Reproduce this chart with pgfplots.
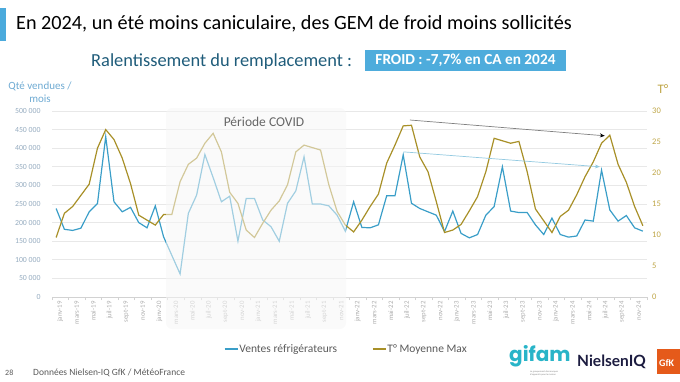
\documentclass[border=0pt]{standalone}
\usepackage{fontspec}
\setmainfont{Carlito}
\newfontfamily\poppins{Poppins}
\newfontfamily\latofont{Lato}
\usepackage{pgfplots}
\pgfplotsset{compat=1.18}
\usetikzlibrary{arrows.meta}
\definecolor{blueline}{RGB}{58,158,200}
\definecolor{goldline}{RGB}{168,144,40}
\definecolor{goldtick}{RGB}{190,165,70}
\definecolor{lefttick}{RGB}{150,172,192}
\definecolor{axtitle}{RGB}{110,170,210}
\definecolor{titlebar}{RGB}{75,170,220}
\definecolor{subtitle}{RGB}{31,92,122}
\definecolor{boxblue}{RGB}{78,172,220}
\definecolor{gifamc}{RGB}{40,180,200}
\definecolor{nielsen}{RGB}{28,28,64}
\definecolor{gfk}{RGB}{229,90,26}
\definecolor{gridc}{RGB}{232,232,232}
\definecolor{legtext}{RGB}{90,90,90}
\begin{document}
\begin{tikzpicture}
\path[use as bounding box] (0pt,0pt) rectangle (680pt,-381pt);
% title
\fill[titlebar] (0pt,-8pt) rectangle (6pt,-41pt);
\node[anchor=base west, inner sep=0pt] at (16pt,-29pt) {\fontsize{20.2}{23}\selectfont En 2024, un été moins caniculaire, des GEM de froid moins sollicités};
\node[anchor=base west, inner sep=0pt, text=subtitle] at (91pt,-66pt) {\fontsize{18.4}{21}\selectfont Ralentissement du remplacement :};
\fill[boxblue] (365pt,-50pt) rectangle (566pt,-71pt);
\node[text=white, inner sep=0pt] at (465.5pt,-60.5pt) {\fontsize{15.3}{17}\selectfont\bfseries FROID : -7,7\% en CA en 2024};
% axis titles
\node[text=axtitle, align=center, inner sep=0pt, font=\fontsize{11}{13}\selectfont] at (40pt,-92pt) {Qté vendues /\\mois};
\node[text=goldtick, inner sep=0pt, font=\fontsize{13}{15}\selectfont] at (663pt,-89pt) {T°};

\begin{axis}[
  at={(52pt,-297pt)}, anchor=south west,
  width=595pt, height=186pt, scale only axis,
  xmin=-0.5, xmax=71.5, ymin=0, ymax=500000,
  axis x line*=bottom, axis y line*=left,
  y axis line style={draw=none},
  x axis line style={draw=gray!35, line width=0.6pt},
  ytick={0,50000,...,500000},
  scaled y ticks=false,
  yticklabel={\pgfmathprintnumber[fixed, precision=0, 1000 sep={\ }, assume math mode=true]{\tick}},
  ymajorgrids, grid style={draw=gridc, line width=0.7pt},
  major y tick style={draw=none},
  yticklabel style={font=\fontsize{7.8}{9}\selectfont, text=lefttick, inner sep=0pt, xshift=-7pt},
  xtick={0,2,...,70},
  xticklabels={janv-19,mars-19,mai-19,juil-19,sept-19,nov-19,
               janv-20,mars-20,mai-20,juil-20,sept-20,nov-20,
               janv-21,mars-21,mai-21,juil-21,sept-21,nov-21,
               janv-22,mars-22,mai-22,juil-22,sept-22,nov-22,
               janv-23,mars-23,mai-23,juil-23,sept-23,nov-23,
               janv-24,mars-24,mai-24,juil-24,sept-24,nov-24},
  xticklabel style={rotate=90, anchor=east, inner sep=0pt, yshift=-4pt, font=\fontsize{6.8}{8}\selectfont, text=gray!65},
  major x tick style={draw=none},
  minor xtick={-0.5,1.5,...,71.5},
  minor tick length=3pt, tick align=outside,
  minor x tick style={draw=gray!35, line width=0.5pt},
  clip=false,
  legend style={at={(0.494,-0.28)}, anchor=center, draw=none, fill=none, legend columns=2,
     font=\fontsize{11.5}{13}\selectfont, text=legtext, inner sep=0pt,
     nodes={inner sep=1pt},
     /tikz/every even column/.append style={column sep=34pt}},
  legend image code/.code={\draw[#1, line width=1.3pt] (0pt,0pt) -- (13pt,0pt);},
]
\addplot[blueline, line width=1.2pt] coordinates {
(0,238000)(1,182000)(2,179000)(3,185000)(4,229000)(5,251000)(6,431000)(7,256000)(8,229000)(9,241000)(10,200000)(11,186000)
(12,245000)(13,162000)(14,112000)(15,62000)(16,225000)(17,274000)(18,383000)(19,321000)(20,256000)(21,271000)(22,150000)(23,265000)
(24,265000)(25,207000)(26,189000)(27,150000)(28,252000)(29,285000)(30,377000)(31,250000)(32,250000)(33,245000)(34,220000)(35,177000)
(36,256000)(37,187000)(38,186000)(39,194000)(40,272000)(41,272000)(42,382000)(43,252000)(44,238000)(45,229000)(46,220000)(47,176000)
(48,231000)(49,171000)(50,159000)(51,168000)(52,220000)(53,243000)(54,350000)(55,231000)(56,227000)(57,227000)(58,194000)(59,168000)
(60,212000)(61,168000)(62,161000)(63,164000)(64,207000)(65,204000)(66,341000)(67,234000)(68,204000)(69,219000)(70,186000)(71,177000)
};
\addlegendentry{Ventes réfrigérateurs}
\addlegendimage{goldline}
\addlegendentry{T° Moyenne Max}
\end{axis}

\begin{axis}[
  at={(52pt,-297pt)}, anchor=south west,
  width=595pt, height=186pt, scale only axis,
  xmin=-0.5, xmax=71.5, ymin=0, ymax=30,
  axis x line=none, axis y line*=right,
  y axis line style={draw=none},
  ytick={0,5,...,30},
  major y tick style={draw=none},
  yticklabel={\pgfmathprintnumber[fixed, precision=0, assume math mode=true]{\tick}},
  yticklabel style={font=\fontsize{8.5}{10}\selectfont, text=goldtick, inner sep=0pt, xshift=5pt},
  clip=false,
]
\addplot[goldline, line width=1.2pt] coordinates {
(0,9.6)(1,13.5)(2,14.6)(3,16.4)(4,18.2)(5,24.0)(6,27.0)(7,25.4)(8,22.4)(9,18.3)(10,13.2)(11,12.4)
(12,11.6)(13,13.3)(14,13.3)(15,18.6)(16,21.4)(17,22.4)(18,24.8)(19,26.4)(20,23.4)(21,16.9)(22,15.1)(23,10.8)
(24,9.6)(25,11.9)(26,14.0)(27,15.5)(28,18.1)(29,23.4)(30,24.5)(31,24.1)(32,23.7)(33,18.1)(34,13.8)(35,11.6)
(36,10.5)(37,12.4)(38,14.6)(39,16.6)(40,21.6)(41,24.5)(42,27.6)(43,27.7)(44,22.6)(45,20.2)(46,15.4)(47,10.4)
(48,10.8)(49,11.7)(50,13.9)(51,16.2)(52,20.2)(53,25.6)(54,25.2)(55,24.8)(56,25.1)(57,20.2)(58,14.2)(59,12.3)
(60,10.4)(61,13.0)(62,14.0)(63,16.5)(64,19.4)(65,21.8)(66,24.8)(67,26.1)(68,21.4)(69,18.5)(70,14.6)(71,11.5)
};
\draw[gray, line width=0.7pt, -{Stealth[length=5pt,width=4pt,black]}] (axis cs:42.8,28.55) -- (axis cs:66.4,26.0);
\draw[blueline!55, line width=0.7pt, -{Stealth[length=5pt,width=4pt]}] (axis cs:42.1,23.4) -- (axis cs:65.8,21.0);
\end{axis}

% COVID box
\fill[gray!7, opacity=0.55, rounded corners=6pt] (166pt,-108pt) rectangle (346pt,-329pt);
\node[text=gray!80!black, inner sep=0pt, font=\fontsize{13.5}{15}\selectfont] at (264pt,-122pt) {Période COVID};

% footer
\node[anchor=base west, inner sep=0pt, text=legtext, font=\fontsize{8}{9}\selectfont] at (5pt,-375pt) {28};
\node[anchor=base west, inner sep=0pt, text=legtext, font=\fontsize{9.5}{11}\selectfont] at (33pt,-375pt) {Données Nielsen-IQ GfK / MétéoFrance};
% logos
\node[anchor=base west, inner sep=0pt, text=gifamc, font=\fontsize{20}{22}\poppins\bfseries] at (509pt,-361pt) {gifam};
\node[anchor=north west, inner sep=0pt, text=gray, align=left, font=\fontsize{2.4}{2.8}\selectfont] at (530pt,-371pt) {Le groupement des marques\\d'appareils pour la maison};
\node[anchor=base west, inner sep=0pt, text=nielsen, font=\fontsize{15.5}{17}\latofont\bfseries] at (577pt,-366pt) {NielsenIQ};
\fill[gfk] (657pt,-349pt) rectangle (680pt,-374pt);
\node[anchor=base west, inner sep=0pt, text=white, font=\fontsize{10}{12}\selectfont\bfseries] at (659pt,-366pt) {GfK};
\end{tikzpicture}
\end{document}
